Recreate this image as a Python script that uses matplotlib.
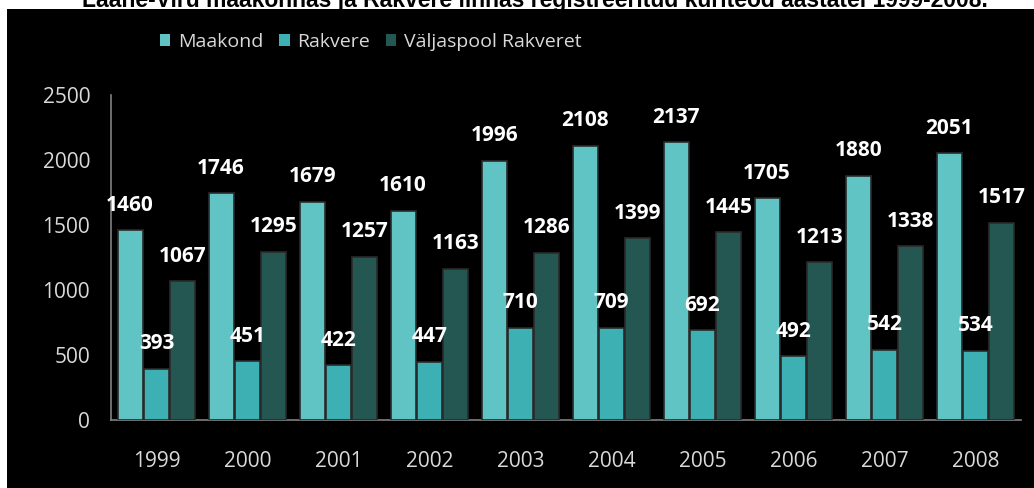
import matplotlib
matplotlib.use("Agg")
import matplotlib.pyplot as plt
from matplotlib.patches import Rectangle, Patch
import numpy as np

years = ["1999", "2000", "2001", "2002", "2003", "2004", "2005", "2006", "2007", "2008"]
maakond = [1460, 1746, 1679, 1610, 1996, 2108, 2137, 1705, 1880, 2051]
rakvere = [393, 451, 422, 447, 710, 709, 692, 492, 542, 534]
valjaspool = [1067, 1295, 1257, 1163, 1286, 1399, 1445, 1213, 1338, 1517]
series_names = ["Maakond", "Rakvere", "Väljaspool Rakveret"]
colors = ["#60C3C4", "#3DB0B3", "#255752"]
title = "Lääne-Viru maakonnas ja Rakvere linnas registreeritud kuriteod aastatel 1999-2008."

W, H = 1034, 488
fig = plt.figure(figsize=(W / 100, H / 100), dpi=100)
fig.patch.set_facecolor("white")
fig.patches.append(Rectangle((7 / W, 0), 1 - 7 / W, 1 - 9 / H, transform=fig.transFigure,
                             facecolor="black", edgecolor="none", zorder=-5))
fig.text(0.517, 1 - 7 / H, title, ha="center", va="baseline", fontsize=16.5,
         fontweight="bold", family="Liberation Sans", color="black", zorder=-4)

ax = fig.add_axes([111 / W, 1 - 420 / H, 910 / W, 325 / H])
ax.set_facecolor("none")

x = np.arange(len(years))
bw = 0.275
offsets = [-0.29, 0.0, 0.29]
for vals, off, c in zip([maakond, rakvere, valjaspool], offsets, colors):
    bars = ax.bar(x + off, vals, width=bw, color=c, edgecolor="#2b2b2b", linewidth=1.2, zorder=3)
    for b, v in zip(bars, vals):
        ax.annotate(str(v), (b.get_x() + b.get_width() / 2, v), xytext=(0, 18),
                    textcoords="offset points", ha="center", va="center",
                    fontsize=15, fontweight="bold", family="Open Sans", color="white", zorder=5)

ax.set_xlim(-0.5, len(years) - 0.5)
ax.set_ylim(0, 2500)
ax.set_yticks([0, 500, 1000, 1500, 2000, 2500])
ax.set_xticks(x)
ax.set_xticklabels(years)
ax.tick_params(axis="both", length=0, labelcolor="#d9d9d9", labelsize=15)
ax.tick_params(axis="x", pad=22)
ax.tick_params(axis="y", pad=15)
for lab in ax.get_xticklabels() + ax.get_yticklabels():
    lab.set_family("Open Sans")
for s in ["top", "right"]:
    ax.spines[s].set_visible(False)
for s in ["left", "bottom"]:
    ax.spines[s].set_color("#808080")
    ax.spines[s].set_linewidth(1.2)

handles = [Patch(facecolor=c, edgecolor="none") for c in colors]
leg = fig.legend(handles, series_names, loc="center left", bbox_to_anchor=(142 / W, 1 - 42 / H),
                 ncol=3, frameon=False, handlelength=0.55, handleheight=0.55, handletextpad=0.4,
                 columnspacing=0.8, prop={"family": "Open Sans", "size": 14})
for t in leg.get_texts():
    t.set_color("#d9d9d9")

fig.savefig("out.png", dpi=100, facecolor=fig.get_facecolor())
